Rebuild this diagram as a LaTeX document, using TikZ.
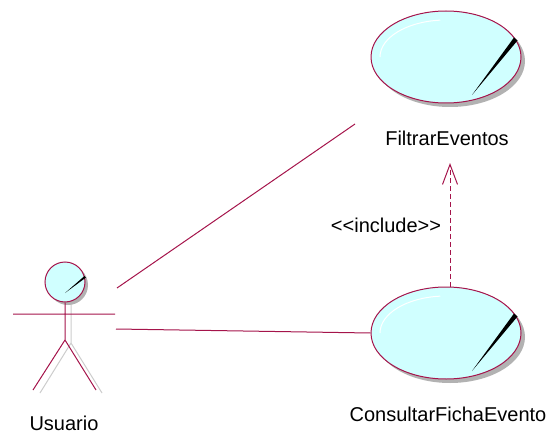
\documentclass[tikz,border=0pt]{standalone}
\usepackage{fontspec}
\newfontfamily\umlfont{Liberation Sans}
\usepackage{tikz}
\usetikzlibrary{shapes,shadows,arrows.meta,calc}
\definecolor{umlred}{RGB}{165,20,75}
\definecolor{ucfill}{RGB}{208,255,255}
\tikzset{
  usecase/.style={ellipse,draw=umlred,fill=ucfill,line width=1pt,minimum width=150pt,minimum height=92pt,inner sep=0pt,
    drop shadow={shadow xshift=4pt,shadow yshift=-4pt,fill=black!30,opacity=1}},
  head/.style={circle,draw=umlred,fill=ucfill,line width=1pt,minimum size=40pt,inner sep=0pt,
    drop shadow={shadow xshift=3pt,shadow yshift=-3pt,fill=black!30,opacity=1}},
  txt/.style={font=\umlfont\fontsize{20}{24}\selectfont,inner sep=0pt},
  assoc/.style={draw=umlred,line width=1pt}
}
\begin{document}
\begin{tikzpicture}[x=1pt,y=-1pt]
   \useasboundingbox (0,0) rectangle (551,433);
   % actor
   \draw[black!20,line width=1pt] (71,302) -- (71,343) -- (40,393) (71,343) -- (102,393);
   \node[head] (h) at (65,282) {};
   \fill ($(h)+(19.5,-6)$) -- ($(h)+(21,-4.5)$) -- ($(h)+(0,11)$) -- cycle;
   \draw[assoc] (h.south) -- (65,340) coordinate (hip)
      (hip) -- (33,390) (hip) -- (96,390)
      (13,314) -- (115,314);
   \node[txt] (u) at (64,423) {Usuario};
   \coordinate (a1) at (117,288);
   \coordinate (a2) at (116,329);
   % use cases
   \node[usecase] (f) at (446,57) {};
   \node[usecase] (c) at (446,333) {};
   \foreach \uc in {f,c}{
     \fill ($(\uc)+(68,-19.5)$) -- ($(\uc)+(71.5,-16.5)$) -- ($(\uc)+(26,38)$) -- cycle;
     \draw[white,line width=1pt] ($(\uc)+(-66,0)$) arc (180:95:66pt and 37pt);
   }
   \node[txt] (fl) at (447,138) {FiltrarEventos};
   \node[txt] (cl) at (448,414) {ConsultarFichaEvento};
   \coordinate (f1) at (355,124);
   \coordinate (inc) at (450,163);
   % connectors
   \path[assoc]
    (a1) edge (f1)
    (a2) edge (c.west);
   \draw[assoc,dash pattern=on 5pt off 3pt,-{Straight Barb[length=20pt,width=15pt]}] ([xshift=4pt]c.north) -- (inc);
   \node[txt] (il) at (386,225) {<<include>>};
\end{tikzpicture}
\end{document}
